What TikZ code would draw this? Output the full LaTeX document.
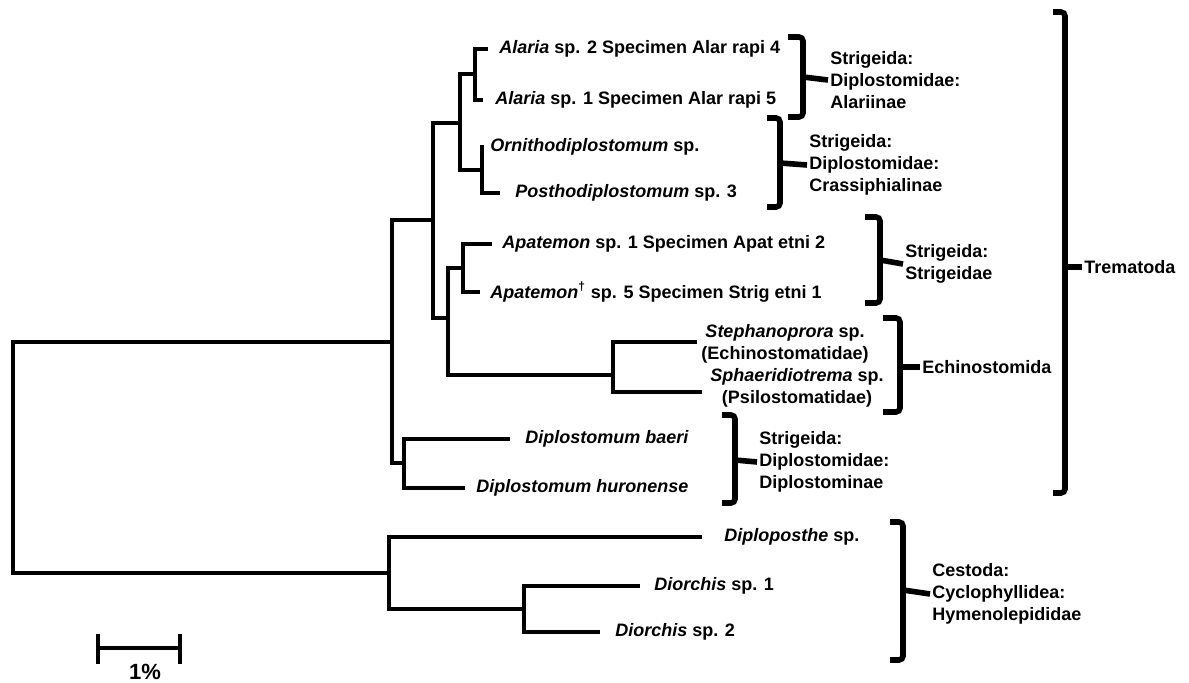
\documentclass[tikz,border=0pt]{standalone}
\usepackage{fontspec}
\setmainfont{Liberation Sans}
\usepackage{tikz}

\begin{document}
\begin{tikzpicture}
	[
	x=0.5pt, y=-0.5pt, font=\fontsize{9}{11}\selectfont\bfseries, line width=2.3pt
	%Stile für Taxa, Gruppen und Klammern
	, art/.style={anchor=west, inner sep=0pt}
	, gruppe/.style={anchor=west, align=left, inner sep=0pt}
	, klammer/.style={line width=2.8pt, rounded corners=2pt}
	]
	\useasboundingbox (0,0) rectangle (1189,683);
	%innere Knoten
	\coordinate (wurzel) at (13,457);
	\coordinate (trem) at (392,342);
	\coordinate (ka) at (433,220);
	\coordinate (kb) at (460,123);
	\coordinate (alar) at (475,74);
	\coordinate (orni) at (482,170);
	\coordinate (ke) at (448,318);
	\coordinate (apat) at (463,268);
	\coordinate (echi) at (613,375);
	\coordinate (dipl) at (404,463);
	\coordinate (cest) at (389,573);
	\coordinate (dior) at (524,609);
	%Enden der Zweige
	\coordinate (e1) at (488,49);
	\coordinate (e2) at (483,100);
	\coordinate (e3) at (484,147);
	\coordinate (e4) at (500,193);
	\coordinate (e5) at (492,244);
	\coordinate (e6) at (480,292);
	\coordinate (e7) at (697,342);
	\coordinate (e8) at (702,392);
	\coordinate (e9) at (510,439);
	\coordinate (e10) at (465,488);
	\coordinate (e11) at (702,537);
	\coordinate (e12) at (640,586);
	\coordinate (e13) at (600,632);
	%Taxa
	\node[art] (alar4) at (497,49) {\textit{Alaria} sp. 2 Specimen Alar rapi 4};
	\node[art] (alar5) at (493,100) {\textit{Alaria} sp. 1 Specimen Alar rapi 5};
	\node[art] (ornith) at (488,147) {\textit{Ornithodiplostomum} sp.};
	\node[art] (postho) at (513,193) {\textit{Posthodiplostomum} sp. 3};
	\node[art] (apat2) at (500,244) {\textit{Apatemon} sp. 1 Specimen Apat etni 2};
	\node[art] (strig1) at (488,292) {\textit{Apatemon}\textsuperscript{\textdagger} sp. 5 Specimen Strig etni 1};
	\node[align=center, inner sep=0pt] (steph) at (785,344) {\textit{Stephanoprora} sp.\\(Echinostomatidae)};
	\node[align=center, inner sep=0pt] (sphae) at (797,388) {\textit{Sphaeridiotrema} sp.\\(Psilostomatidae)};
	\node[art] (baeri) at (523,439) {\textit{Diplostomum baeri}};
	\node[art] (huron) at (474,488) {\textit{Diplostomum huronense}};
	\node[art] (diplop) at (722,537) {\textit{Diploposthe} sp.};
	\node[art] (dior1) at (652,586) {\textit{Diorchis} sp. 1};
	\node[art] (dior2) at (613,632) {\textit{Diorchis} sp. 2};
	%Zweige
	\draw (wurzel) |- (trem);
	\draw (wurzel) |- (cest);
	\draw (trem) |- (ka);
	\draw (trem) |- (dipl);
	\draw (ka) |- (kb);
	\draw (ka) |- (ke);
	\draw (kb) |- (alar);
	\draw (kb) |- (orni);
	\draw (alar) |- (e1);
	\draw (alar) |- (e2);
	\draw (orni) |- (e3);
	\draw (orni) |- (e4);
	\draw (ke) |- (apat);
	\draw (ke) |- (echi);
	\draw (apat) |- (e5);
	\draw (apat) |- (e6);
	\draw (echi) |- (e7);
	\draw (echi) |- (e8);
	\draw (dipl) |- (e9);
	\draw (dipl) |- (e10);
	\draw (cest) |- (e11);
	\draw (cest) |- (dior);
	\draw (dior) |- (e12);
	\draw (dior) |- (e13);
	%Klammern mit Gruppen
	\node[gruppe] (alarii) at (828,80) {Strigeida:\\Diplostomidae:\\Alariinae};
	\draw[klammer] (788,37) -- (803,37) -- (803,117) -- (788,117);
	\draw[klammer] (803,77) -- (alarii.west);
	\node[gruppe] (crassi) at (807,165) {Strigeida:\\Diplostomidae:\\Crassiphialinae};
	\draw[klammer] (767,118) -- (780,118) -- (780,207) -- (767,207);
	\draw[klammer] (780,163) -- (crassi.west);
	\node[gruppe] (strige) at (903,264) {Strigeida:\\Strigeidae};
	\draw[klammer] (865,217) -- (880,217) -- (880,303) -- (865,303);
	\draw[klammer] (880,260) -- (strige.west);
	\node[gruppe] (echino) at (920,367) {Echinostomida};
	\draw[klammer] (883,318) -- (900,318) -- (900,412) -- (883,412);
	\draw[klammer] (900,367) -- (echino.west);
	\node[gruppe] (diplos) at (757,462) {Strigeida:\\Diplostomidae:\\Diplostominae};
	\draw[klammer] (722,415) -- (735,415) -- (735,503) -- (722,503);
	\draw[klammer] (735,460) -- (diplos.west);
	\node[gruppe] (cestoda) at (930,594) {Cestoda:\\Cyclophyllidea:\\Hymenolepididae};
	\draw[klammer] (890,522) -- (903,522) -- (903,660) -- (890,660);
	\draw[klammer] (903,590) -- (cestoda.west);
	\node[gruppe] (tremat) at (1082,267) {Trematoda};
	\draw[klammer] (1053,12) -- (1065,12) -- (1065,493) -- (1053,493);
	\draw[klammer] (1065,267) -- (tremat.west);
	%Maßstab
	\coordinate (ma) at (98,648);
	\coordinate (mb) at (180,648);
	\draw (ma) -- (mb);
	\draw ([yshift=7]ma) -- ([yshift=-8]ma);
	\draw ([yshift=7]mb) -- ([yshift=-8]mb);
	\node[font=\fontsize{11}{13}\selectfont\bfseries] (prozent) at (145,672) {1\%};
\end{tikzpicture}
\end{document}
